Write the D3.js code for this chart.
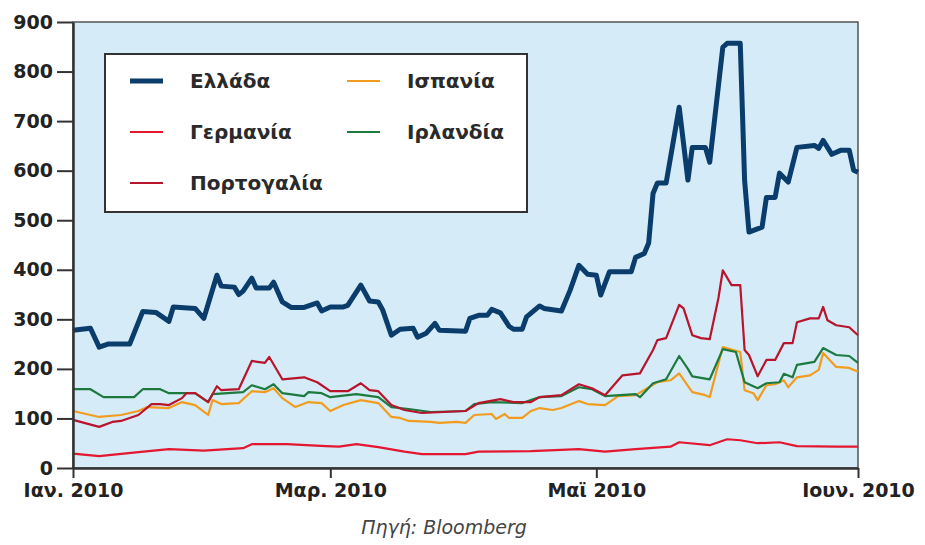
<!DOCTYPE html>
<html>
<head>
<meta charset="utf-8">
<script src="https://cdn.jsdelivr.net/npm/d3@7"></script>
<style>
  body { margin: 0; background: #fff; }
  svg { display: block; }
</style>
</head>
<body>
<div id="chart"></div>
<script>
// days after 1 Jan 2010, spread (bp)
const greece = [[0,278],[4,282],[6,244],[8,250],[13,250],[16,316],[19,314],[22,296],[23,325],[28,322],[30,302],[33,389],[34,367],[37,365],[38,350],[39,357],[41,383],[42,363],[45,363],[46,375],[48,335],[50,324],[53,324],[56,333],[57,317],[59,325],[62,325],[63,328],[66,369],[68,337],[70,335],[71,319],[73,268],[75,280],[78,282],[79,264],[81,272],[83,292],[84,278],[90,276],[91,302],[93,308],[95,308],[96,320],[98,313],[100,286],[101,280],[103,280],[104,305],[107,327],[108,322],[112,317],[114,359],[116,409],[118,391],[120,389],[121,349],[123,396],[128,396],[129,425],[131,433],[132,454],[133,554],[134,575],[136,575],[139,728],[141,581],[142,647],[145,647],[146,617],[149,849],[150,857],[153,857],[154,580],[155,476],[158,486],[159,546],[161,546],[162,595],[164,577],[166,647],[170,651],[171,645],[172,661],[174,633],[176,641],[178,641],[179,601],[180,597]];
const germany = [[0,29],[6,24],[15,32],[22,38],[30,35],[39,40],[41,48],[49,48],[58,44],[61,43],[65,48],[70,42],[76,33],[80,28],[90,28],[93,33],[105,34],[116,38],[122,33],[129,38],[137,43],[139,52],[146,46],[150,58],[153,56],[157,50],[162,52],[166,44],[175,43],[180,43]];
const portugal = [[0,97],[6,83],[9,93],[11,95],[15,107],[18,129],[20,129],[22,127],[25,141],[26,151],[28,151],[31,133],[33,165],[34,157],[38,159],[41,216],[44,212],[45,224],[48,179],[53,183],[56,173],[59,155],[63,155],[66,171],[68,157],[70,155],[73,127],[76,117],[80,111],[90,115],[93,131],[98,139],[101,133],[105,133],[107,143],[112,147],[116,169],[119,161],[122,147],[124,167],[126,187],[130,191],[133,238],[134,258],[136,262],[139,329],[140,322],[142,268],[144,262],[146,260],[148,343],[149,399],[151,369],[153,369],[154,238],[155,228],[157,185],[159,218],[161,218],[163,252],[165,252],[166,294],[169,302],[171,302],[172,325],[173,298],[175,288],[178,284],[180,268]];
const spain = [[0,115],[6,103],[11,107],[15,115],[17,123],[22,121],[25,133],[28,127],[31,107],[32,137],[34,129],[38,131],[41,155],[44,153],[46,161],[48,141],[51,123],[54,133],[57,131],[59,115],[62,127],[66,137],[70,131],[73,103],[75,101],[77,95],[82,93],[84,91],[88,93],[90,91],[92,107],[96,109],[97,99],[99,109],[100,101],[103,101],[105,115],[107,121],[110,117],[112,121],[116,135],[118,129],[122,127],[125,145],[129,147],[134,173],[137,177],[139,191],[142,153],[145,147],[146,143],[149,244],[153,234],[154,157],[156,151],[157,137],[159,167],[161,169],[163,177],[164,163],[166,183],[169,187],[171,198],[172,232],[175,204],[178,202],[180,194]];
const ireland = [[0,159],[4,159],[7,143],[14,143],[16,159],[20,159],[22,151],[28,151],[31,133],[32,149],[39,153],[41,167],[44,159],[46,169],[48,151],[53,145],[54,153],[57,151],[59,143],[65,149],[70,143],[73,123],[77,119],[82,113],[90,115],[92,129],[96,133],[103,131],[107,143],[112,145],[116,163],[119,159],[122,145],[129,149],[130,143],[133,171],[136,179],[139,226],[141,200],[142,185],[146,179],[149,240],[152,234],[154,173],[157,161],[159,171],[162,173],[163,190],[165,183],[166,208],[170,214],[172,242],[175,228],[178,226],[180,212]];

const seriesNames = ["Ελλάδα", "Γερμανία", "Πορτογαλία", "Ισπανία", "Ιρλανδία"];
const seriesData = [greece, germany, portugal, spain, ireland];
const seriesColors = ["#0a3d6b", "#e3172f", "#b8142c", "#f29c1f", "#1d7a3e"];
const seriesWidths = [5, 2.2, 2.2, 2.2, 2.2];

const yTicks = [0, 100, 200, 300, 400, 500, 600, 700, 800, 900];
const xTickDays = [0, 59, 120, 180];
const xTickLabels = ["Ιαν. 2010", "Μαρ. 2010", "Μαϊ 2010", "Ιουν. 2010"];
const source = "Πηγή: Bloomberg";

const width = 925, height = 545;
const margin = {top: 22, right: 67, bottom: 77, left: 73};

const start = new Date(2010, 0, 1);
const toDate = d => d3.timeDay.offset(start, d);

const svg = d3.select("#chart").append("svg")
    .attr("width", width)
    .attr("height", height);

const x = d3.scaleTime()
    .domain([start, toDate(180)])
    .range([margin.left, width - margin.right]);
const y = d3.scaleLinear()
    .domain([0, 900])
    .range([height - margin.bottom, margin.top]);

// plot background
svg.append("rect")
    .attr("x", x.range()[0])
    .attr("y", y(900))
    .attr("width", x.range()[1] - x.range()[0])
    .attr("height", y(0) - y(900))
    .attr("fill", "#d5ebf8")
    .attr("stroke", "#555")
    .attr("stroke-width", 1.5);

// lines, thick Greece on top
const line = d3.line()
    .x(d => x(toDate(d[0])))
    .y(d => y(d[1]));

const order = [1, 3, 4, 2, 0];
order.forEach(i => {
    svg.append("path")
        .datum(seriesData[i])
        .attr("fill", "none")
        .attr("stroke", seriesColors[i])
        .attr("stroke-width", seriesWidths[i])
        .attr("stroke-linejoin", "round")
        .attr("d", line);
});

// axes
const yAxis = svg.append("g")
    .attr("transform", `translate(${margin.left},0)`)
    .call(d3.axisLeft(y).tickValues(yTicks).tickSize(16).tickPadding(4).tickSizeOuter(0));
yAxis.select(".domain").attr("stroke", "#333").attr("stroke-width", 2.5);
yAxis.selectAll(".tick line").attr("stroke", "#333").attr("stroke-width", 2);
yAxis.selectAll("text")
    .style("font-family", "DejaVu Sans")
    .style("font-weight", "bold")
    .style("font-size", "19px")
    .attr("fill", "#222");

const xAxis = svg.append("g")
    .attr("transform", `translate(0,${y(0)})`)
    .call(d3.axisBottom(x)
        .tickValues(xTickDays.map(toDate))
        .tickFormat((d, i) => xTickLabels[i])
        .tickSize(10).tickPadding(6).tickSizeOuter(0));
xAxis.select(".domain").attr("stroke", "#333").attr("stroke-width", 2.5);
xAxis.selectAll(".tick line").attr("stroke", "#333").attr("stroke-width", 2);
xAxis.selectAll("text")
    .style("font-family", "DejaVu Sans")
    .style("font-weight", "bold")
    .style("font-size", "19px")
    .attr("fill", "#222");

// legend
const legend = svg.append("g");
legend.append("rect")
    .attr("x", 105).attr("y", 54)
    .attr("width", 422).attr("height", 158)
    .attr("fill", "#fff")
    .attr("stroke", "#333")
    .attr("stroke-width", 2);

const legendPos = [[0, 0], [0, 1], [0, 2], [1, 0], [1, 1]];
seriesNames.forEach((name, i) => {
    const [col, row] = legendPos[i];
    const lx = col ? 347 : 130;
    const ly = 81 + row * 51;
    legend.append("line")
        .attr("x1", lx).attr("x2", lx + 33)
        .attr("y1", ly).attr("y2", ly)
        .attr("stroke", seriesColors[i])
        .attr("stroke-width", i === 0 ? 5 : 2);
    legend.append("text")
        .attr("x", lx + 60)
        .attr("y", ly + 7)
        .attr("fill", "#2a2a2a")
        .style("font-family", "DejaVu Sans")
        .style("font-weight", "bold")
        .style("font-size", "20px")
        .text(name);
});

svg.append("text")
    .attr("x", 444)
    .attr("y", 534)
    .attr("text-anchor", "middle")
    .attr("fill", "#444")
    .style("font-family", "DejaVu Sans")
    .style("font-style", "italic")
    .style("font-size", "19px")
    .text(source);
</script>
</body>
</html>
